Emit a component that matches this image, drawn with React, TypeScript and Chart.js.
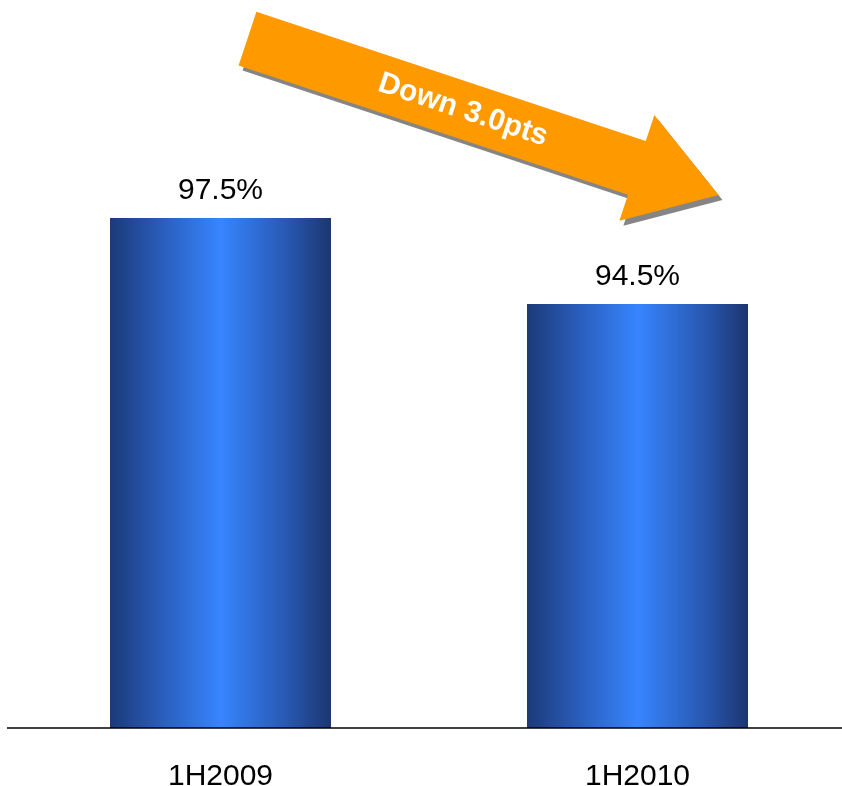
import React, { useEffect, useRef } from "react";
import { Chart, registerables } from "chart.js";

Chart.register(...registerables);

// Data
const categories: string[] = ["1H2009", "1H2010"];
const values: number[] = [97.5, 94.5];
const arrowLabel = "Down 3.0pts";

// Value range of the (hidden) y axis
const yMin = 79.71;
const yMax = 105.1;

const FONT = "Arial, 'Liberation Sans', Helvetica, sans-serif";
const BAR_PCT = 0.53;

// Horizontal blue gradient across a bar, dark at the edges and bright in the middle
function barGradient(ctx: CanvasRenderingContext2D, left: number, right: number) {
  const g = ctx.createLinearGradient(left, 0, right, 0);
  g.addColorStop(0, "#1b3a78");
  g.addColorStop(0.2, "#2858b2");
  g.addColorStop(0.5, "#3785ff");
  g.addColorStop(0.8, "#2858b2");
  g.addColorStop(1, "#1c3670");
  return g;
}

// Baseline drawn across the full width, value labels above bars, and the trend arrow
const decorations = {
  id: "decorations",
  afterDatasetsDraw(chart: any) {
    const { ctx, scales } = chart;
    const x = scales.x;
    const y = scales.y;
    const base = y.getPixelForValue(yMin);

    ctx.save();
    // baseline
    ctx.strokeStyle = "#000000";
    ctx.lineWidth = 1.6;
    ctx.beginPath();
    ctx.moveTo(7, base);
    ctx.lineTo(chart.width, base);
    ctx.stroke();

    // value labels
    ctx.fillStyle = "#000000";
    ctx.font = `30px ${FONT}`;
    ctx.textAlign = "center";
    ctx.textBaseline = "alphabetic";
    const meta = chart.getDatasetMeta(0);
    meta.data.forEach((bar: any, i: number) => {
      ctx.fillText(`${values[i].toFixed(1)}%`, bar.x, bar.y - 19);
    });

    // trend arrow, from above the first bar to above the second
    const sx = x.getPixelForValue(0) + 27;
    const sy = y.getPixelForValue(103.75);
    const ex = x.getPixelForValue(1) + 81;
    const ey = y.getPixelForValue(98.3);
    const ang = Math.atan2(ey - sy, ex - sx);
    const len = Math.hypot(ex - sx, ey - sy);
    const shaftHalf = 28.3;
    const headHalf = 55.6;
    const headLen = 86;

    const drawArrow = () => {
      ctx.beginPath();
      ctx.moveTo(0, -shaftHalf);
      ctx.lineTo(len - headLen, -shaftHalf);
      ctx.lineTo(len - headLen, -headHalf);
      ctx.lineTo(len, 0);
      ctx.lineTo(len - headLen, headHalf);
      ctx.lineTo(len - headLen, shaftHalf);
      ctx.lineTo(0, shaftHalf);
      ctx.closePath();
      ctx.fill();
    };

    // shadow
    ctx.save();
    ctx.translate(sx + 4, sy + 5);
    ctx.rotate(ang);
    ctx.fillStyle = "#858585";
    drawArrow();
    ctx.restore();

    // arrow body and caption
    ctx.save();
    ctx.translate(sx, sy);
    ctx.rotate(ang);
    ctx.fillStyle = "#ff9900";
    drawArrow();
    ctx.fillStyle = "#ffffff";
    ctx.font = `bold 30px ${FONT}`;
    ctx.textAlign = "center";
    ctx.textBaseline = "middle";
    ctx.fillText(arrowLabel, 227, 0);
    ctx.restore();

    ctx.restore();
  },
};

export default function App() {
  const canvasRef = useRef<HTMLCanvasElement | null>(null);

  useEffect(() => {
    const canvas = canvasRef.current;
    if (!canvas) return;
    const chart = new Chart(canvas, {
      type: "bar",
      data: {
        labels: categories,
        datasets: [
          {
            data: values,
            backgroundColor: (c: any) => {
              const ch = c.chart;
              const xs = ch.scales && ch.scales.x;
              if (!xs || !ch.chartArea || c.dataIndex === undefined) return "#3785ff";
              const cx = xs.getPixelForValue(c.dataIndex);
              const w = (xs.width / categories.length) * BAR_PCT;
              if (!isFinite(cx) || !isFinite(w) || w <= 0) return "#3785ff";
              return barGradient(ch.ctx, cx - w / 2, cx + w / 2);
            },
            borderWidth: 0,
            barPercentage: BAR_PCT,
            categoryPercentage: 1,
          },
        ],
      },
      options: {
        animation: false,
        responsive: true,
        maintainAspectRatio: false,
        layout: { padding: { left: 12, right: 0, top: 0, bottom: 0 } },
        plugins: {
          legend: { display: false },
          tooltip: { enabled: false },
        },
        scales: {
          x: {
            grid: { display: false, drawTicks: false },
            border: { display: false },
            ticks: {
              color: "#000000",
              font: { family: FONT, size: 30 },
              padding: 31,
            },
            afterFit: (scale: any) => {
              scale.height = 58;
            },
          },
          y: {
            display: false,
            min: yMin,
            max: yMax,
          },
        },
      },
      plugins: [decorations],
    });
    return () => chart.destroy();
  }, []);

  return (
    <div
      style={{
        position: "fixed",
        left: 0,
        top: 0,
        width: 846,
        height: 786,
        background: "#ffffff",
      }}
    >
      <canvas ref={canvasRef} />
    </div>
  );
}
